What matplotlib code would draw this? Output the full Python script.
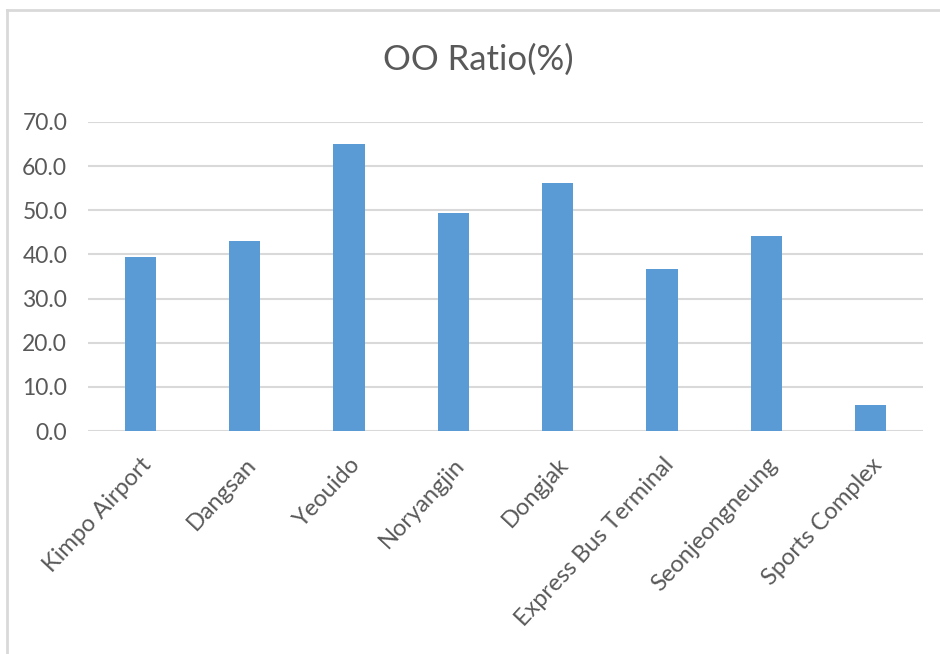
import matplotlib
matplotlib.use("Agg")
import matplotlib.pyplot as plt
from matplotlib.lines import Line2D
from matplotlib.transforms import ScaledTranslation

# OO ratio per station
stations = ["Kimpo Airport", "Dangsan", "Yeouido", "Noryangjin", "Dongjak",
            "Express Bus Terminal", "Seonjeongneung", "Sports Complex"]
oo_ratio = [39.4, 43.0, 65.0, 49.3, 56.1, 36.7, 44.1, 6.0]
yticks = [0, 10, 20, 30, 40, 50, 60, 70]

plt.rcParams['font.family'] = ['Lato', 'DejaVu Sans']
text_col = "#595959"
grid_col = "#d9d9d9"

fig = plt.figure(figsize=(9.4, 6.54), dpi=100)
ax = fig.add_axes([88 / 940, 1 - 431 / 654, (923 - 88) / 940, (431 - 122) / 654])

x = list(range(len(stations)))
ax.bar(x, oo_ratio, width=0.3, color="#5b9bd5", zorder=3)

ax.set_xlim(-0.5, len(stations) - 0.5)
ax.set_ylim(0, 70)
ax.set_yticks(yticks)
ax.set_yticklabels(["{:.1f}".format(v) for v in yticks], fontsize=16.5, color=text_col)
ax.yaxis.grid(True, color=grid_col, linewidth=1.5, zorder=0)
for s in ax.spines.values():
    s.set_visible(False)
ax.tick_params(axis="both", length=0)
ax.tick_params(axis="y", pad=15)

ax.set_xticks(x)
ax.set_xticklabels(stations, rotation=47, ha="right", va="top",
                   rotation_mode="anchor", fontsize=17, color=text_col)
ax.tick_params(axis="x", pad=0)
off = ScaledTranslation(0 / 100, -23 / 100, fig.dpi_scale_trans)
for lab in ax.get_xticklabels():
    lab.set_transform(lab.get_transform() + off)

fig.text(478 / 940, 1 - 60 / 654, "OO Ratio(%)", ha="center", va="center",
         fontsize=25, color=text_col)

# outer chart frame (top and left edges visible)
fig.add_artist(Line2D([7 / 940, 1], [1 - 10 / 654, 1 - 10 / 654], color=grid_col, linewidth=2))
fig.add_artist(Line2D([7 / 940, 7 / 940], [0, 1 - 10 / 654], color=grid_col, linewidth=2))

fig.savefig("out.png", dpi=100)
